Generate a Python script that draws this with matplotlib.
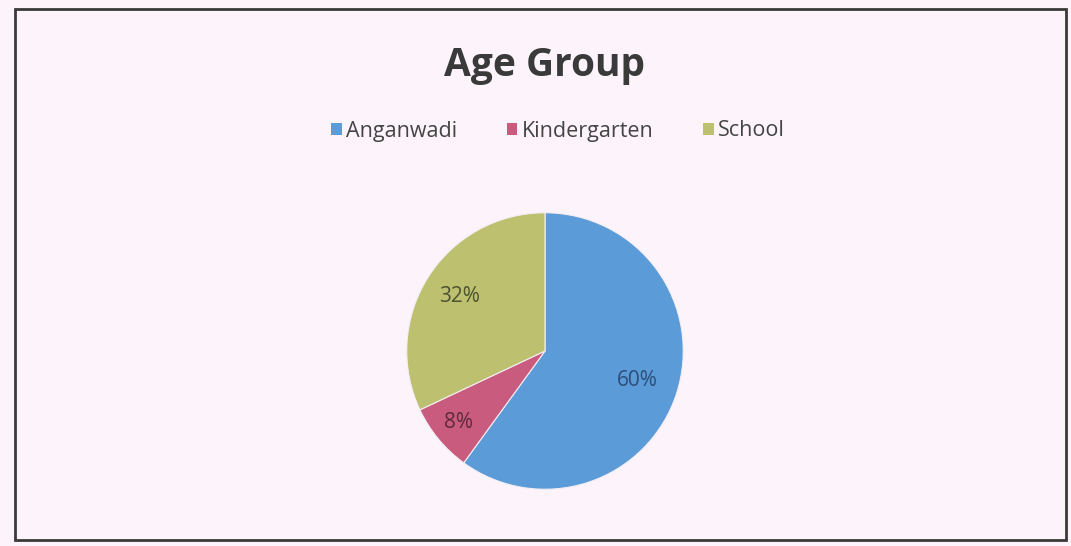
import numpy as np
import matplotlib.pyplot as plt
from matplotlib.patches import Rectangle, Patch

categories = ["Anganwadi", "Kindergarten", "School"]
shares = [60, 8, 32]
colors = ["#5b9bd8", "#c95b7f", "#bcc06f"]
text_colors = ["#2d4d78", "#5e2a3c", "#4d5230"]
label_dist = [0.70, 0.81, 0.73]

W, H = 1071, 546
fig = plt.figure(figsize=(W / 100, H / 100), dpi=100)
fig.patch.set_facecolor("#fdf4fb")
plt.rcParams["font.family"] = ["Open Sans", "DejaVu Sans"]

# outer frame of the chart area
fig.patches.append(Rectangle((15 / W, 1 - 540 / H), 1051 / W, 531 / H,
                             transform=fig.transFigure, fill=False,
                             edgecolor="#3a3a3a", linewidth=2))

cx, cy, r = 545, 351, 141
ax = fig.add_axes([(cx - r) / W, (H - cy - r) / H, 2 * r / W, 2 * r / H])
wedges, _ = ax.pie(shares, colors=colors, startangle=90, counterclock=False,
                   radius=1, wedgeprops=dict(edgecolor="#f4eef4", linewidth=0.8))
ax.set_xlim(-1.02, 1.02)
ax.set_ylim(-1.02, 1.02)
ax.axis("off")

for w, v, d, tc in zip(wedges, shares, label_dist, text_colors):
    ang = np.deg2rad((w.theta1 + w.theta2) / 2)
    ax.text(d * np.cos(ang), d * np.sin(ang), f"{v}%", ha="center", va="center",
            fontsize=15, color=tc)

fig.text(cx / W, 1 - 76 / H, "Age Group", ha="center", va="baseline",
         fontsize=28, fontweight="bold", color="#3a3a3a")

handles = [Patch(facecolor=c, edgecolor="none") for c in colors]
fig.legend(handles, categories, loc="center", bbox_to_anchor=(558 / W, 1 - 131 / H),
           ncol=3, frameon=False, fontsize=15.5, handlelength=0.5, handleheight=0.5,
           handletextpad=0.2, columnspacing=2.3, labelcolor="#444444")

fig.savefig("out.png", dpi=100, facecolor=fig.get_facecolor())
